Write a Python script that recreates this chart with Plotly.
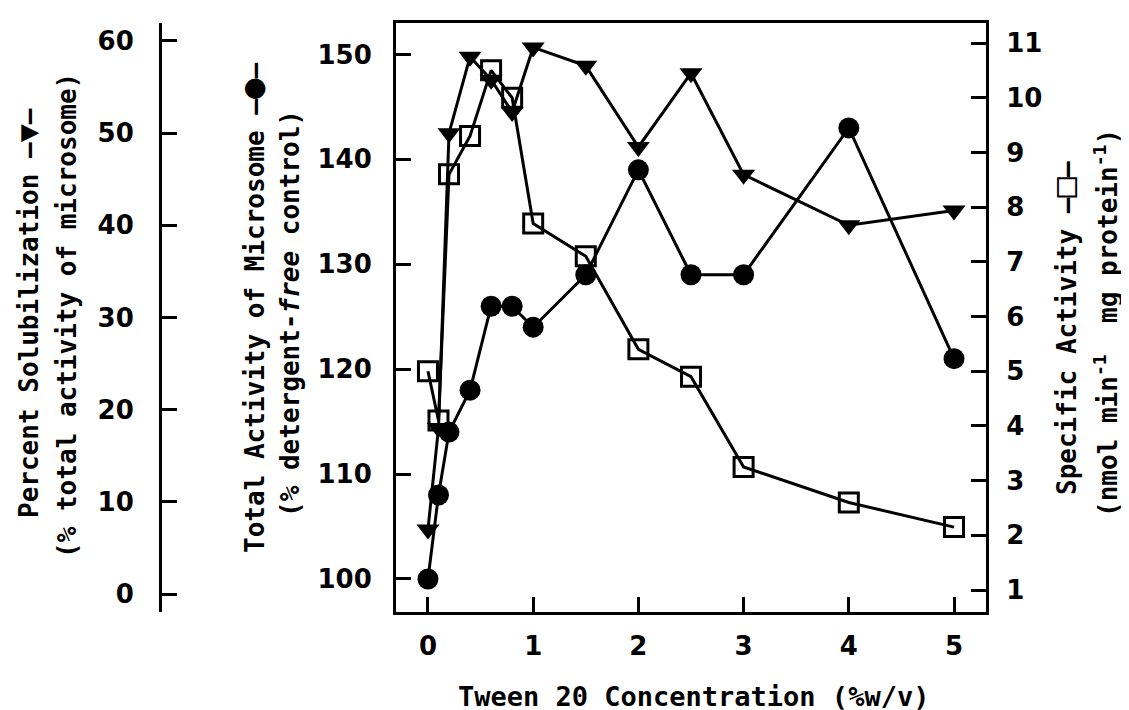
import plotly.graph_objects as go

# Tween 20 concentration (% w/v)
conc = [0, 0.1, 0.2, 0.4, 0.6, 0.8, 1.0, 1.5, 2.0, 2.5, 3.0, 4.0, 5.0]

# Percent solubilization (% total activity of microsome)  -- inverted triangles
solubilization = [7, 18, 50, 58.3, 55.8, 52.3, 59.3, 57.3, 48.5, 56.5, 45.5, 40, 41.6]

# Total activity of microsome (% detergent-free control)  -- filled circles
total_activity = [100, 108, 114, 118, 126, 126, 124, 129, 139, 129, 129, 143, 121]

# Specific activity (nmol min-1 mg protein-1)  -- open squares
specific_activity = [5.0, 4.1, 8.6, 9.3, 10.5, 10.0, 7.7, 7.1, 5.4, 4.9, 3.25, 2.6, 2.15]

TICK_FONT = dict(family="DejaVu Sans", size=26, color="black", weight="bold")
TITLE_FONT = dict(family="DejaVu Sans Mono", size=26, color="black", weight="bold")

fig = go.Figure()

fig.add_trace(go.Scatter(
    x=conc, y=solubilization, yaxis="y3",
    mode="lines+markers",
    line=dict(color="black", width=3),
    marker=dict(symbol="triangle-down", size=20, color="black"),
    showlegend=False,
))

fig.add_trace(go.Scatter(
    x=conc, y=total_activity, yaxis="y",
    mode="lines+markers",
    line=dict(color="black", width=3),
    marker=dict(symbol="circle", size=21, color="black"),
    showlegend=False,
))

fig.add_trace(go.Scatter(
    x=conc, y=specific_activity, yaxis="y2",
    mode="lines+markers",
    line=dict(color="black", width=3),
    marker=dict(symbol="square-open", size=19, color="black",
                line=dict(color="black", width=3)),
    showlegend=False,
))

axis_common = dict(
    showgrid=False, zeroline=False,
    showline=True, linecolor="black", linewidth=3,
    ticks="inside", ticklen=15, tickwidth=3, tickcolor="black",
    tickfont=TICK_FONT,
)

fig.update_layout(
    width=1129, height=710,
    margin=dict(l=152, r=151, t=15, b=106),
    paper_bgcolor="white", plot_bgcolor="white",
    xaxis=dict(
        domain=[0.2857, 1],
        range=[-0.304, 5.304],
        tickvals=[0, 1, 2, 3, 4, 5],
        mirror=True,
        ticklabelstandoff=9,
        **axis_common,
    ),
    yaxis=dict(
        range=[96.85, 153.0],
        tickvals=[100, 110, 120, 130, 140, 150],
        side="left",
        ticklabelstandoff=16,
        **axis_common,
    ),
    yaxis2=dict(
        range=[0.598, 11.366],
        tickvals=list(range(1, 12)),
        overlaying="y", side="right", anchor="x",
        ticklabelstandoff=12,
        **axis_common,
    ),
    yaxis3=dict(
        range=[-1.95, 61.95],
        tickvals=[0, 10, 20, 30, 40, 50, 60],
        overlaying="y", side="left", anchor="free", position=0,
        ticklabelstandoff=20,
        **axis_common,
    ),
)


def px_x(px):
    return (px - 152) / 826


def px_y(py):
    return (604 - py) / 589


def big(sym, size=34):
    return "<span style='font-size:%dpx'>%s</span>" % (size, sym)


titles = [
    ("Percent Solubilization —" + big("▼", 30) + "—", 19, 305),
    ("(% total activity of microsome)", 59, 308),
    ("Total Activity of Microsome —" + big("●") + "—", 244, 300),
    ("(% detergent-<i>free</i> control)", 282, 306),
    ("Specific Activity —" + big("□") + "—", 1056, 320),
    ("(nmol min<sup>-1</sup>  mg protein<sup>-1</sup>)", 1098, 315),
]
for text, px, py in titles:
    fig.add_annotation(
        text=text, xref="paper", yref="paper",
        x=px_x(px), y=px_y(py), xanchor="center", yanchor="middle",
        textangle=-90, showarrow=False, font=TITLE_FONT,
    )

fig.add_annotation(
    text="Tween 20 Concentration (%w/v)", xref="paper", yref="paper",
    x=px_x(685), y=px_y(688), xanchor="center", yanchor="middle",
    showarrow=False, font=dict(TITLE_FONT, size=27),
)

fig.write_html("out.html")
